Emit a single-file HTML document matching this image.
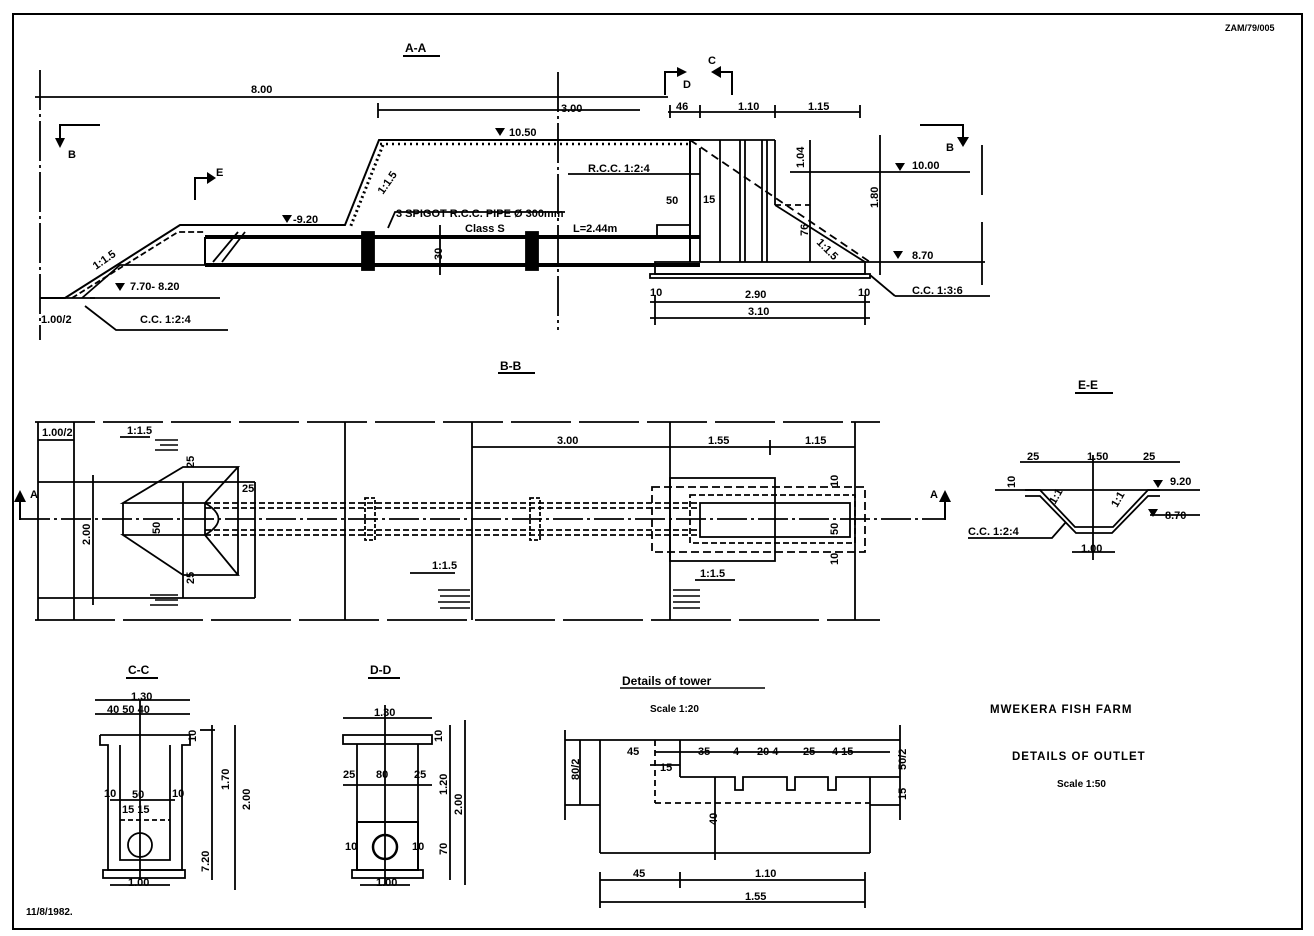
<!DOCTYPE html>
<html><head><meta charset="utf-8"><style>
html,body{margin:0;padding:0;background:#fff;}
svg{display:block;}
text{font-family:"Liberation Sans",sans-serif;font-weight:bold;fill:#000;font-size:11px;}
.t{font-size:12px;}
</style></head><body>
<svg width="1314" height="936" viewBox="0 0 1314 936" xmlns="http://www.w3.org/2000/svg">
<g stroke="#000" fill="none" stroke-width="1.8">
<rect x="13" y="14" width="1289" height="915" stroke-width="2"/>

<line x1="40" y1="70" x2="40" y2="340" stroke-dasharray="40 4 3 4"/>
<line x1="35" y1="97" x2="668" y2="97"/>
<line x1="558" y1="72" x2="558" y2="330" stroke-dasharray="40 4 3 4"/>
<line x1="378" y1="110" x2="640" y2="110"/><line x1="378" y1="103" x2="378" y2="118"/>
<line x1="668" y1="112" x2="860" y2="112"/>
<line x1="670" y1="105" x2="670" y2="118"/><line x1="700" y1="105" x2="700" y2="118"/><line x1="775" y1="105" x2="775" y2="118"/><line x1="860" y1="105" x2="860" y2="118"/>
<polyline points="40,298 65,298 180,225 345,225 379,140 700,140" stroke-width="2"/>
<polyline points="383,145 350,228" stroke-dasharray="2 3" stroke-width="3"/>
<line x1="380" y1="144" x2="690" y2="144" stroke-dasharray="2 4" stroke-width="2.5"/>
<polyline points="72,298 178,232 205,232" stroke-dasharray="6 3"/>
<line x1="65" y1="298" x2="95" y2="298"/>
<polyline points="82,298 120,265 205,265"/>
<polyline points="85,306 116,330 228,330"/>
<line x1="90" y1="298" x2="220" y2="298"/>
<line x1="205" y1="237" x2="700" y2="237" stroke-width="4"/>
<line x1="205" y1="265" x2="700" y2="265" stroke-width="4"/>
<line x1="205" y1="237" x2="205" y2="265" stroke-width="2"/>
<line x1="213" y1="262" x2="238" y2="232" /><line x1="222" y1="262" x2="245" y2="232"/>
<rect x="362" y="232" width="12" height="38" fill="#000"/>
<rect x="526" y="232" width="12" height="38" fill="#000"/>
<line x1="440" y1="225" x2="440" y2="275"/>
<polyline points="388,228 395,212 565,212"/>
<line x1="568" y1="174" x2="700" y2="174"/>
<polyline points="690,140 690,262" stroke-width="2"/>
<polyline points="700,148 700,262"/>
<polyline points="657,235 657,225 690,225"/>
<line x1="720" y1="140" x2="720" y2="262"/><line x1="740" y1="140" x2="740" y2="262"/><line x1="745" y1="140" x2="745" y2="262"/>
<line x1="762" y1="140" x2="762" y2="262"/><line x1="767" y1="140" x2="767" y2="262"/>
<line x1="700" y1="140" x2="775" y2="140"/>
<line x1="775" y1="140" x2="775" y2="205"/>
<line x1="775" y1="205" x2="810" y2="205" stroke-dasharray="6 4"/>
<line x1="690" y1="140" x2="870" y2="262" stroke-dasharray="8 5"/>
<line x1="775" y1="205" x2="865" y2="262"/>
<rect x="655" y="262" width="210" height="12"/>
<rect x="650" y="274" width="220" height="4"/>
<line x1="870" y1="275" x2="895" y2="296"/><line x1="895" y1="296" x2="990" y2="296"/>
<line x1="650" y1="302" x2="870" y2="302"/><line x1="650" y1="318" x2="870" y2="318"/>
<line x1="655" y1="295" x2="655" y2="325"/><line x1="865" y1="295" x2="865" y2="325"/>
<line x1="810" y1="140" x2="810" y2="262"/>
<line x1="880" y1="135" x2="880" y2="275"/>
<line x1="790" y1="172" x2="970" y2="172"/>
<line x1="865" y1="262" x2="985" y2="262"/>
<line x1="982" y1="145" x2="982" y2="195"/><line x1="982" y1="222" x2="982" y2="285"/>
<polyline points="60,140 60,125 100,125" stroke-width="2"/>
<polyline points="195,200 195,178 208,178" stroke-width="2"/>
<polyline points="665,95 665,72 678,72" stroke-width="2"/>
<polyline points="732,95 732,72 720,72" stroke-width="2"/>
<polyline points="920,125 963,125 963,140" stroke-width="2"/>
</g>
<g fill="#000">
<polygon points="55,138 65,138 60,148"/><polygon points="207,172 207,184 216,178"/>
<polygon points="677,67 677,77 687,72"/><polygon points="721,66 721,78 711,72"/>
<polygon points="957,137 969,137 963,147"/>
<polygon points="495,128 505,128 500,136"/><polygon points="282,215 292,215 287,223"/>
<polygon points="115,283 125,283 120,291"/><polygon points="895,163 905,163 900,171"/>
<polygon points="893,251 903,251 898,259"/>
</g>
<text class="t" x="405" y="52">A-A</text>
<line x1="403" y1="56" x2="440" y2="56" stroke="#000" stroke-width="2"/>
<text x="251" y="93">8.00</text><text x="561" y="112">3.00</text>
<text x="676" y="110">46</text><text x="738" y="110">1.10</text><text x="808" y="110">1.15</text>
<text x="68" y="158">B</text><text x="216" y="176">E</text><text x="683" y="88">D</text><text x="708" y="64">C</text><text x="946" y="151">B</text>
<text x="509" y="136">10.50</text><text x="293" y="223">-9.20</text>
<text x="130" y="290">7.70- 8.20</text><text x="140" y="323">C.C. 1:2:4</text>
<text x="41" y="323">1.00/2</text><text x="96" y="270" transform="rotate(-35 96 270)">1:1.5</text>
<text x="383" y="195" transform="rotate(-55 383 195)">1:1.5</text>
<text x="396" y="217">3 SPIGOT R.C.C. PIPE Ø 300mm</text>
<text x="465" y="232">Class S</text><text x="573" y="232">L=2.44m</text>
<text x="588" y="172">R.C.C. 1:2:4</text><text x="666" y="204">50</text><text x="703" y="203">15</text>
<text x="912" y="169">10.00</text><text x="912" y="259">8.70</text><text x="912" y="294">C.C. 1:3:6</text>
<text x="650" y="296">10</text><text x="745" y="298">2.90</text><text x="858" y="296">10</text><text x="748" y="315">3.10</text>
<text x="816" y="243" transform="rotate(45 816 243)">1:1.5</text>
<text x="804" y="168" transform="rotate(-90 804 168)">1.04</text>
<text x="878" y="208" transform="rotate(-90 878 208)">1.80</text>
<text x="808" y="236" transform="rotate(-90 808 236)">76</text>
<text x="442" y="260" transform="rotate(-90 442 260)">30</text>
<text x="1225" y="31" style="font-size:9px">ZAM/79/005</text>

<g stroke="#000" fill="none" stroke-width="1.8">
<line x1="35" y1="422" x2="880" y2="422" stroke-dasharray="60 8"/>
<line x1="35" y1="620" x2="880" y2="620" stroke-dasharray="80 8"/>
<line x1="38" y1="422" x2="38" y2="620"/><line x1="74" y1="422" x2="74" y2="620"/>
<line x1="345" y1="422" x2="345" y2="620"/><line x1="472" y1="422" x2="472" y2="620"/>
<line x1="670" y1="422" x2="670" y2="620"/><line x1="855" y1="422" x2="855" y2="620"/>
<line x1="38" y1="440" x2="74" y2="440"/>
<line x1="38" y1="482" x2="255" y2="482"/><line x1="38" y1="598" x2="255" y2="598"/>
<line x1="93" y1="475" x2="93" y2="605"/>
<line x1="255" y1="482" x2="255" y2="598"/>
<line x1="183" y1="482" x2="183" y2="598"/>
<polygon points="123,503 183,467 238,467 205,503 123,503"/>
<polygon points="123,535 183,575 238,575 205,535 123,535"/>
<line x1="123" y1="503" x2="123" y2="535"/>
<line x1="205" y1="503" x2="205" y2="535"/><line x1="238" y1="467" x2="238" y2="575"/>
<path d="M205 503 Q232 519 205 535"/>
<line x1="20" y1="519" x2="945" y2="519" stroke-dasharray="30 4 3 4"/>
<line x1="205" y1="503" x2="700" y2="503" stroke-dasharray="6 3"/>
<line x1="205" y1="508" x2="700" y2="508" stroke-dasharray="6 3"/>
<line x1="205" y1="530" x2="700" y2="530" stroke-dasharray="6 3"/>
<line x1="205" y1="535" x2="700" y2="535" stroke-dasharray="6 3"/>
<rect x="365" y="498" width="10" height="42" stroke-dasharray="4 2"/>
<rect x="530" y="498" width="10" height="42" stroke-dasharray="4 2"/>
<line x1="472" y1="447" x2="855" y2="447"/><line x1="770" y1="440" x2="770" y2="455"/>
<rect x="670" y="478" width="105" height="83"/>
<rect x="652" y="487" width="213" height="65" stroke-dasharray="8 4"/>
<rect x="690" y="495" width="165" height="48" stroke-dasharray="6 3"/>
<rect x="700" y="503" width="150" height="34"/>
<line x1="20" y1="520" x2="20" y2="500" stroke-width="2"/><line x1="945" y1="520" x2="945" y2="500" stroke-width="2"/>
<line x1="120" y1="437" x2="150" y2="437"/><line x1="410" y1="573" x2="455" y2="573"/><line x1="695" y1="580" x2="735" y2="580"/>
<g stroke-width="1.4">
<line x1="155" y1="440" x2="178" y2="440"/><line x1="160" y1="445" x2="178" y2="445"/><line x1="155" y1="450" x2="178" y2="450"/>
<line x1="150" y1="595" x2="178" y2="595"/><line x1="155" y1="600" x2="178" y2="600"/><line x1="150" y1="605" x2="178" y2="605"/>
<line x1="438" y1="590" x2="470" y2="590"/><line x1="440" y1="596" x2="470" y2="596"/><line x1="438" y1="602" x2="470" y2="602"/><line x1="440" y1="608" x2="470" y2="608"/>
<line x1="673" y1="590" x2="700" y2="590"/><line x1="673" y1="596" x2="700" y2="596"/><line x1="673" y1="602" x2="700" y2="602"/><line x1="673" y1="608" x2="700" y2="608"/>
</g>
</g>
<polygon points="14,502 26,502 20,490" fill="#000"/><polygon points="939,502 951,502 945,490" fill="#000"/>
<text class="t" x="500" y="370">B-B</text><line x1="498" y1="373" x2="535" y2="373" stroke="#000" stroke-width="2"/>
<text x="42" y="436">1.00/2</text><text x="127" y="434">1:1.5</text>
<text x="30" y="498">A</text><text x="930" y="498">A</text>
<text x="90" y="545" transform="rotate(-90 90 545)">2.00</text>
<text x="160" y="534" transform="rotate(-90 160 534)">50</text>
<text x="242" y="492">25</text><text x="194" y="468" transform="rotate(-90 194 468)">25</text>
<text x="194" y="584" transform="rotate(-90 194 584)">25</text>
<text x="557" y="444">3.00</text><text x="708" y="444">1.55</text><text x="805" y="444">1.15</text>
<text x="432" y="569">1:1.5</text><text x="700" y="577">1:1.5</text>
<text x="838" y="535" transform="rotate(-90 838 535)">50</text>
<text x="838" y="487" transform="rotate(-90 838 487)">10</text><text x="838" y="565" transform="rotate(-90 838 565)">10</text>

<g stroke="#000" fill="none" stroke-width="1.8">
<line x1="1020" y1="462" x2="1180" y2="462"/>
<line x1="1093" y1="455" x2="1093" y2="560"/>
<line x1="995" y1="490" x2="1200" y2="490"/>
<polyline points="1025,490 1040,490 1075,527 1113,527 1148,490 1160,490"/>
<polyline points="1025,496 1040,496 1076,533 1112,533 1148,496 1160,496"/>
<line x1="1150" y1="515" x2="1200" y2="515"/>
<polyline points="968,538 1052,538 1066,522"/>
<line x1="1072" y1="552" x2="1115" y2="552"/>
</g>
<polygon points="1153,480 1163,480 1158,488" fill="#000"/><polygon points="1148,509 1158,509 1153,517" fill="#000"/>
<text class="t" x="1078" y="389">E-E</text><line x1="1075" y1="393" x2="1113" y2="393" stroke="#000" stroke-width="2"/>
<text x="1027" y="460">25</text><text x="1087" y="460">1.50</text><text x="1143" y="460">25</text>
<text x="1170" y="485">9.20</text><text x="1165" y="519">8.70</text><text x="968" y="535">C.C. 1:2:4</text>
<text x="1081" y="552">1.00</text><text x="1015" y="488" transform="rotate(-90 1015 488)">10</text>
<text x="1055" y="505" transform="rotate(-60 1055 505)">1:1</text><text x="1117" y="508" transform="rotate(-60 1117 508)">1:1</text>

<g stroke="#000" fill="none" stroke-width="1.8">
<line x1="95" y1="700" x2="190" y2="700"/><line x1="95" y1="714" x2="190" y2="714"/>
<line x1="140" y1="700" x2="140" y2="880"/>
<polyline points="100,735 190,735 190,745 182,745 182,870 108,870 108,745 100,745 100,735"/>
<polyline points="120,745 120,860 170,860 170,745"/>
<line x1="120" y1="820" x2="170" y2="820" stroke-dasharray="5 3"/>
<circle cx="140" cy="845" r="12"/>
<rect x="103" y="870" width="82" height="8"/>
<line x1="200" y1="730" x2="215" y2="730"/><line x1="212" y1="725" x2="212" y2="880"/><line x1="235" y1="725" x2="235" y2="890"/>
<line x1="110" y1="885" x2="170" y2="885"/>
<line x1="110" y1="800" x2="175" y2="800"/>
</g>
<text class="t" x="128" y="674">C-C</text><line x1="126" y1="678" x2="158" y2="678" stroke="#000" stroke-width="2"/>
<text x="131" y="700">1.30</text><text x="107" y="713">40 50 40</text>
<text x="132" y="798">50</text><text x="104" y="797">10</text><text x="172" y="797">10</text><text x="122" y="813">15 15</text>
<text x="128" y="886">1.00</text>
<text x="229" y="790" transform="rotate(-90 229 790)">1.70</text><text x="250" y="810" transform="rotate(-90 250 810)">2.00</text>
<text x="209" y="872" transform="rotate(-90 209 872)">7.20</text>
<text x="196" y="742" transform="rotate(-90 196 742)">10</text>

<g stroke="#000" fill="none" stroke-width="1.8">
<line x1="343" y1="718" x2="432" y2="718"/>
<line x1="385" y1="705" x2="385" y2="885"/>
<rect x="343" y="735" width="89" height="9"/>
<line x1="357" y1="744" x2="357" y2="870"/><line x1="418" y1="744" x2="418" y2="870"/>
<line x1="343" y1="785" x2="432" y2="785"/>
<rect x="357" y="822" width="61" height="48" stroke-width="2"/>
<circle cx="385" cy="847" r="12" stroke-width="2.5"/>
<rect x="352" y="870" width="71" height="8"/>
<line x1="360" y1="885" x2="410" y2="885"/>
<line x1="450" y1="725" x2="450" y2="880"/><line x1="465" y1="720" x2="465" y2="885"/>
</g>
<text class="t" x="370" y="674">D-D</text><line x1="368" y1="678" x2="400" y2="678" stroke="#000" stroke-width="2"/>
<text x="374" y="716">1.30</text><text x="343" y="778">25</text><text x="376" y="778">80</text><text x="414" y="778">25</text>
<text x="345" y="850">10</text><text x="412" y="850">10</text><text x="376" y="886">1.00</text>
<text x="447" y="795" transform="rotate(-90 447 795)">1.20</text><text x="462" y="815" transform="rotate(-90 462 815)">2.00</text>
<text x="447" y="855" transform="rotate(-90 447 855)">70</text><text x="442" y="742" transform="rotate(-90 442 742)">10</text>

<g stroke="#000" fill="none" stroke-width="1.8">
<line x1="565" y1="740" x2="900" y2="740"/>
<line x1="565" y1="730" x2="565" y2="820"/><line x1="900" y1="725" x2="900" y2="820"/>
<line x1="580" y1="740" x2="580" y2="805"/>
<line x1="565" y1="805" x2="600" y2="805"/><line x1="870" y1="805" x2="900" y2="805"/>
<line x1="600" y1="740" x2="600" y2="853"/>
<line x1="600" y1="853" x2="870" y2="853"/><line x1="870" y1="777" x2="870" y2="853"/>
<line x1="655" y1="740" x2="655" y2="803" stroke-dasharray="6 4"/>
<line x1="655" y1="803" x2="870" y2="803" stroke-dasharray="6 4"/>
<line x1="680" y1="740" x2="680" y2="777"/>
<polyline points="680,777 735,777 735,790 743,790 743,777 787,777 787,790 795,790 795,777 828,777 828,790 836,790 836,777 900,777"/>
<line x1="655" y1="752" x2="890" y2="752"/>
<line x1="650" y1="765" x2="680" y2="765"/>
<line x1="715" y1="777" x2="715" y2="860"/>
<line x1="600" y1="880" x2="865" y2="880"/><line x1="600" y1="902" x2="865" y2="902"/>
<line x1="600" y1="872" x2="600" y2="908"/><line x1="680" y1="872" x2="680" y2="888"/><line x1="865" y1="872" x2="865" y2="908"/>
</g>
<text x="622" y="685" class="t">Details of tower</text><line x1="620" y1="688" x2="765" y2="688" stroke="#000" stroke-width="1.5"/>
<text x="650" y="712" style="font-size:10px">Scale 1:20</text>
<text x="627" y="755">45</text><text x="698" y="755">35</text><text x="733" y="755">4</text><text x="757" y="755">20 4</text><text x="803" y="755">25</text><text x="832" y="755">4 15</text>
<text x="660" y="771">15</text>
<text x="579" y="780" transform="rotate(-90 579 780)">80/2</text><text x="906" y="770" transform="rotate(-90 906 770)">50/2</text>
<text x="906" y="800" transform="rotate(-90 906 800)">15</text><text x="717" y="825" transform="rotate(-90 717 825)">40</text>
<text x="633" y="877">45</text><text x="755" y="877">1.10</text><text x="745" y="900">1.55</text>

<text x="990" y="713" style="font-size:11.5px;letter-spacing:1px">MWEKERA FISH FARM</text>
<text x="1012" y="760" style="font-size:11.5px;letter-spacing:1px">DETAILS OF OUTLET</text>
<text x="1057" y="787" style="font-size:10px">Scale 1:50</text>
<text x="26" y="915" style="font-size:10px">11/8/1982.</text>
</svg>
</body></html>
